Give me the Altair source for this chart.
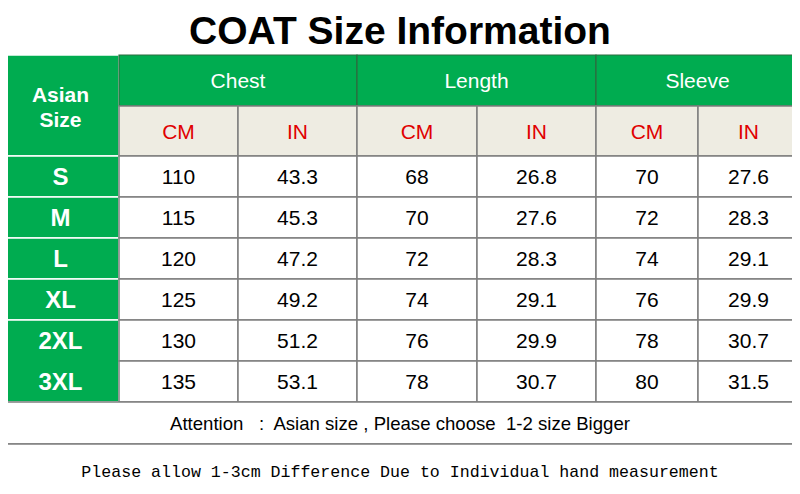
import altair as alt
import pandas as pd

# ---------------- data ----------------
title_text = "COAT Size Information"
corner_label = ["Asian", "Size"]
groups = ["Chest", "Length", "Sleeve"]
units = ["CM", "IN"]
sizes = ["S", "M", "L", "XL", "2XL", "3XL"]
chest_cm = [110, 115, 120, 125, 130, 135]
chest_in = [43.3, 45.3, 47.2, 49.2, 51.2, 53.1]
length_cm = [68, 70, 72, 74, 76, 78]
length_in = [26.8, 27.6, 28.3, 29.1, 29.9, 30.7]
sleeve_cm = [70, 72, 74, 76, 78, 80]
sleeve_in = [27.6, 28.3, 29.1, 29.9, 30.7, 31.5]
attention_text = "Attention\u00a0\u00a0 :\u00a0 Asian size , Please choose\u00a0 1-2 size Bigger"
note_text = "Please allow 1-3cm Difference Due to Individual hand measurement"

# ---------------- layout (table geometry, in page pixels) ----------------
COL = [0, 119, 238, 357, 477, 596, 698, 799]
HEAD = [55, 106, 156]
ROW = [156, 197, 238, 279, 320, 361, 402]
FOOT = [402, 444, 492]
GREEN = "#00AC50"
DARK = "#2E6B40"
BEIGE = "#EEECE2"
GRID = "#7F7F7F"
RED = "#E00000"

# ---------------- cells ----------------
cells = []
def cell(x0, x1, y0, y1, fill, stroke, sw):
    cells.append(dict(x=x0, x2=x1, y=y0, y2=y1, fill=fill, stroke=stroke, sw=sw))

cell(COL[0], COL[1], HEAD[0], HEAD[2], GREEN, "white", 1.5)
for i, s in enumerate(sizes):
    if s == "3XL":
        continue
    y1 = ROW[i + 2] if s == "2XL" else ROW[i + 1]
    cell(COL[0], COL[1], ROW[i], y1, GREEN, "white", 1.5)
for g in range(len(groups)):
    cell(COL[1 + 2 * g], COL[3 + 2 * g], HEAD[0], HEAD[1], GREEN, DARK, 1.2)
for c in range(6):
    cell(COL[1 + c], COL[2 + c], HEAD[1], HEAD[2], BEIGE, GRID, 1.5)
for r in range(len(sizes)):
    for c in range(6):
        cell(COL[1 + c], COL[2 + c], ROW[r], ROW[r + 1], "white", GRID, 1.5)
cell(COL[0], COL[-1], FOOT[0], FOOT[1], "white", GRID, 1.5)
cell(COL[0], COL[-1], FOOT[1], FOOT[2], "white", GRID, 1.5)
cells_df = pd.DataFrame(cells)

def cx(i):
    return (COL[i] + COL[i + 1]) / 2

def mid(a, b):
    return (a + b) / 2

# ---------------- texts ----------------
reg = []
def rtext(x, yc, t, color, size):
    reg.append(dict(x=x, y=yc + 0.36 * size, t=t, color=color, size=size))

for g, name in enumerate(groups):
    rtext((COL[1 + 2 * g] + COL[3 + 2 * g]) / 2, mid(HEAD[0], HEAD[1]), name, "white", 21)
for c in range(6):
    rtext(cx(1 + c), mid(HEAD[1], HEAD[2]), units[c % 2], RED, 21)
columns = [chest_cm, chest_in, length_cm, length_in, sleeve_cm, sleeve_in]
for c, vals in enumerate(columns):
    for r, v in enumerate(vals):
        t = f"{v:.1f}" if isinstance(v, float) else str(v)
        rtext(cx(1 + c), mid(ROW[r], ROW[r + 1]), t, "black", 21)
rtext(400, mid(FOOT[0], FOOT[1]), attention_text, "black", 18.6)
reg_df = pd.DataFrame(reg)

bold = []
def btext(x, yc, t, size):
    bold.append(dict(x=x, y=yc + 0.36 * size, t=t, size=size))

btext(cx(0) + 1, 94, corner_label[0], 21)
btext(cx(0) + 1, 119.5, corner_label[1], 21)
for r, s in enumerate(sizes):
    btext(cx(0) + 1, mid(ROW[r], ROW[r + 1]), s, 24)
bold_df = pd.DataFrame(bold)

title_df = pd.DataFrame([dict(x=400, y=44, t=title_text)])
note_df = pd.DataFrame([dict(x=400, y=mid(FOOT[1], FOOT[2]) + 8.5, t=note_text)])

# ---------------- chart ----------------
# page pixels 8..792 x 8..486 are the visible plot area (8px body margin)
XS = alt.Scale(domain=[8, 792], nice=False, zero=False)
YS = alt.Scale(domain=[8, 486], nice=False, zero=False, reverse=True)

def X(f="x"):
    return alt.X(f"{f}:Q", scale=XS, axis=None)

def Y(f="y"):
    return alt.Y(f"{f}:Q", scale=YS, axis=None)

rects = alt.Chart(cells_df).mark_rect().encode(
    x=X(), x2="x2:Q", y=Y(), y2="y2:Q",
    fill=alt.Fill("fill:N", scale=None),
    stroke=alt.Stroke("stroke:N", scale=None),
    strokeWidth=alt.StrokeWidth("sw:Q", scale=None),
)

reg_layer = alt.Chart(reg_df).mark_text(
    font="Liberation Sans", baseline="alphabetic", align="center"
).encode(
    x=X(), y=Y(), text="t:N",
    color=alt.Color("color:N", scale=None),
    size=alt.Size("size:Q", scale=None),
)

bold_layer = alt.Chart(bold_df).mark_text(
    font="Liberation Sans", fontWeight="bold", baseline="alphabetic", align="center", color="white"
).encode(
    x=X(), y=Y(), text="t:N",
    size=alt.Size("size:Q", scale=None),
)

title_layer = alt.Chart(title_df).mark_text(
    font="Liberation Sans", fontWeight="bold", fontSize=39, baseline="alphabetic",
    align="center", color="black"
).encode(x=X(), y=Y(), text="t:N")

note_layer = alt.Chart(note_df).mark_text(
    font="Liberation Mono", fontSize=16.6, baseline="alphabetic", align="center", color="black"
).encode(x=X(), y=Y(), text="t:N")

chart = alt.layer(rects, reg_layer, bold_layer, title_layer, note_layer).properties(
    width=784, height=478, padding=0, autosize="none", background="white"
).configure_view(strokeWidth=0)

chart.save("out.html", embed_options={"renderer": "svg", "actions": False})
